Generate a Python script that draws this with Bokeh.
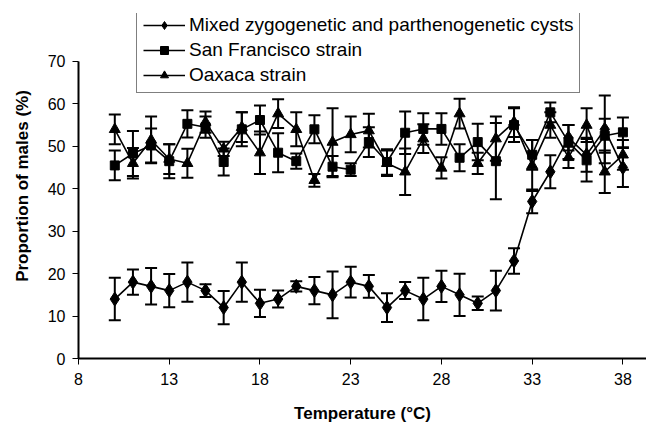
from bokeh.plotting import figure
from bokeh.models import (ColumnDataSource, Whisker, TeeHead, Legend, LegendItem,
                          Range1d, FixedTicker)
from bokeh.embed import file_html
from bokeh.resources import INLINE

temperature = list(range(10, 39))

mixed = [14, 18, 17, 16, 18, 16, 12, 18, 13, 14, 17, 16, 15, 18, 17, 12, 16, 14,
         17, 15, 13, 16, 23, 37, 44, 52, 48, 54, 45]
mixed_err = [5, 3, 4.3, 3.9, 4.6, 1.5, 3.9, 4.6, 3.2, 2, 1.2, 3.2, 5.5, 3.6, 2.7,
             3.4, 2, 5, 3.7, 5, 1.6, 4.7, 3, 2.8, 3.9, 3, 4, 8, 4.6]

san_francisco = [45.5, 48.3, 50.2, 46.5, 55.3, 54.5, 46.3, 54, 56.2, 48.5, 46.5, 54,
                 45.2, 44.5, 51, 46.3, 53.2, 54.1, 54.1, 47.3, 51, 46.5, 55, 48, 58,
                 51, 46.7, 52.5, 53.3]
san_francisco_err = [3.5, 5.3, 4, 4, 3.2, 2.5, 3.2, 4, 3.4, 4.6, 1.8, 3.3, 2.5, 1.5,
                     3.5, 3, 5, 3.7, 3.7, 3.2, 4.3, 9, 4, 3.5, 2.3, 4, 5, 4, 3.5]

oaxaca = [54, 46, 51.5, 47, 46, 55.7, 49.4, 54.5, 48.5, 57.7, 54, 42, 51, 52.8, 53.7,
          46, 44, 51.8, 44.9, 57.7, 46, 51.8, 55.7, 45.5, 55, 47.4, 55, 44, 48]
oaxaca_err = [3.5, 3.6, 5.5, 3.5, 3.4, 2.5, 1.7, 3.5, 5, 3.4, 4, 1.5, 8, 4.2, 4, 3,
              5.5, 3.4, 2.5, 3.5, 2.5, 5.2, 3.5, 6, 3, 2.5, 4, 5, 3.5]

x_ticks = [8, 13, 18, 23, 28, 33, 38]
y_ticks = [0, 10, 20, 30, 40, 50, 60, 70]

FONT = "Liberation Sans"

p = figure(width=646, height=430, x_range=Range1d(8, 39.3), y_range=Range1d(0, 81.3),
           output_backend="svg", toolbar_location=None,
           min_border_left=78, min_border_right=0, min_border_top=13,
           min_border_bottom=72)
p.outline_line_color = None
p.xgrid.visible = False
p.ygrid.visible = False
p.background_fill_color = "white"
p.border_fill_color = "white"

for ax in (p.xaxis[0], p.yaxis[0]):
    ax.axis_line_color = "black"
    ax.axis_line_width = 2
    ax.major_tick_line_color = "black"
    ax.major_tick_line_width = 1
    ax.major_tick_out = 6
    ax.major_tick_in = 0
    ax.minor_tick_line_color = None
    ax.major_label_text_font = FONT
    ax.major_label_text_font_size = "16px"
    ax.major_label_text_color = "black"
    ax.axis_label_text_font = FONT
    ax.axis_label_text_font_size = "17px"
    ax.axis_label_text_font_style = "bold"
    ax.axis_label_text_color = "black"

p.xaxis[0].major_label_standoff = 8
p.xaxis[0].axis_label_standoff = 16
p.yaxis[0].major_label_standoff = 7
p.yaxis[0].axis_label_standoff = 13
p.yaxis[0].bounds = (0, 70)

p.xaxis.ticker = FixedTicker(ticks=x_ticks)
p.yaxis.ticker = FixedTicker(ticks=y_ticks)
p.xaxis.axis_label = "Temperature (°C)"
p.yaxis.axis_label = "Proportion of males (%)"

series = [
    ("Mixed zygogenetic and parthenogenetic cysts", mixed, mixed_err, "diamond", 14),
    ("San Francisco strain", san_francisco, san_francisco_err, "square", 9),
    ("Oaxaca strain", oaxaca, oaxaca_err, "triangle", 11),
]

items = []
for label, vals, errs, marker, size in series:
    src = ColumnDataSource(dict(
        x=temperature, y=vals,
        upper=[v + e for v, e in zip(vals, errs)],
        lower=[v - e for v, e in zip(vals, errs)],
    ))
    w = Whisker(source=src, base="x", upper="upper", lower="lower",
                line_color="black", line_width=2,
                upper_head=TeeHead(size=12, line_color="black", line_width=2),
                lower_head=TeeHead(size=12, line_color="black", line_width=2))
    p.add_layout(w)
    lr = p.line("x", "y", source=src, line_color="black", line_width=1.6)
    sr = p.scatter("x", "y", source=src, marker=marker, size=size,
                   fill_color="black", line_color="black")
    items.append(LegendItem(label=label, renderers=[lr, sr]))

legend = Legend(items=items, location=(58, 265))
legend.label_text_font = FONT
legend.label_text_font_size = "19px"
legend.label_text_color = "black"
legend.glyph_width = 42
legend.glyph_height = 20
legend.label_height = 20
legend.spacing = 3
legend.padding = 6
legend.margin = 0
legend.label_standoff = 4
legend.border_line_color = "black"
legend.border_line_width = 1
legend.background_fill_color = "white"
legend.background_fill_alpha = 1
p.add_layout(legend, "center")

open("out.html", "w").write(file_html(p, INLINE))
